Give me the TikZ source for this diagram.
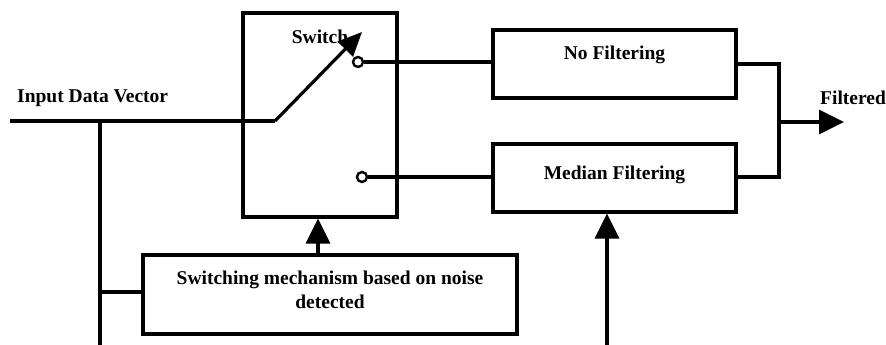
\documentclass[tikz,border=0pt]{standalone}
\usepackage{fontspec}
\setmainfont{Liberation Serif}
\usetikzlibrary{arrows.meta}
\begin{document}
\begin{tikzpicture}[x=1pt,y=-1pt,
  every node/.style={font=\bfseries\fontsize{19.5}{24}\selectfont},
  box/.style={draw,line width=3.2pt,inner sep=0pt},
  txt/.style={inner sep=0pt,align=center},
  wire/.style={line width=3.2pt},
  big/.style={-{Triangle[length=25pt,width=24pt]}},
  port/.style={circle,draw,fill=white,line width=2.4pt,inner sep=0pt,minimum size=10pt}]
\useasboundingbox (0,0) rectangle (886,345);
% boxes
\node[box,minimum width=154pt,minimum height=204pt] (sw) at (320,115) {};
\node[txt] (swt) at (320,37) {Switch};
\node[box,minimum width=243pt,minimum height=68pt] (nf) at (614.5,64) {};
\node[txt] (nft) at (614.5,55) {No Filtering};
\node[box,minimum width=243pt,minimum height=68pt] (md) at (614.5,178) {};
\node[txt] (mdt) at (614.5,175) {Median Filtering};
\node[box,minimum width=374pt,minimum height=79pt] (sm) at (330,294.5) {};
\node[txt] (smt) at (330,290) {Switching mechanism based on noise\\detected};
% labels
\node[txt,anchor=west] (inl) at (17,98) {Input Data Vector};
\node[txt,anchor=west] (outl) at (820,98) {Filtered};
% coordinates
\coordinate (in) at (10,121);
\coordinate (pivot) at (275,121);
\coordinate (tip) at (362,32);
\coordinate (tap) at (100,121);
\coordinate (tapb) at (100,345);
\coordinate (tapm) at (100,292);
\coordinate (mdb) at (607,345);
\coordinate (j1) at (779,64);
\coordinate (j2) at (779,177);
\coordinate (jo) at (779,122);
\coordinate (out) at (844,122);
% ports
\node[port] (p1) at (358,62) {};
\node[port] (p2) at (362,177) {};
% wires
\draw[wire] (in) -- (pivot);
\draw[wire,-{Triangle[length=24pt,width=21pt]}] (pivot) -- (tip);
\draw[wire] (p1) -- (nf.west |- p1);
\draw[wire] (p2) -- (md.west |- p2);
\draw[wire] (tap) -- (tapb);
\draw[wire] (tapm) -- (sm.west |- tapm);
\draw[wire,big] (sm.north -| 318,0) -- (sw.south -| 318,0);
\draw[wire,big] (mdb) -- (md.south -| mdb);
\draw[wire] (nf.east |- j1) -- (j1) -- (j2) -- (md.east |- j2);
\draw[wire,big] (jo) -- (out);
\end{tikzpicture}
\end{document}
